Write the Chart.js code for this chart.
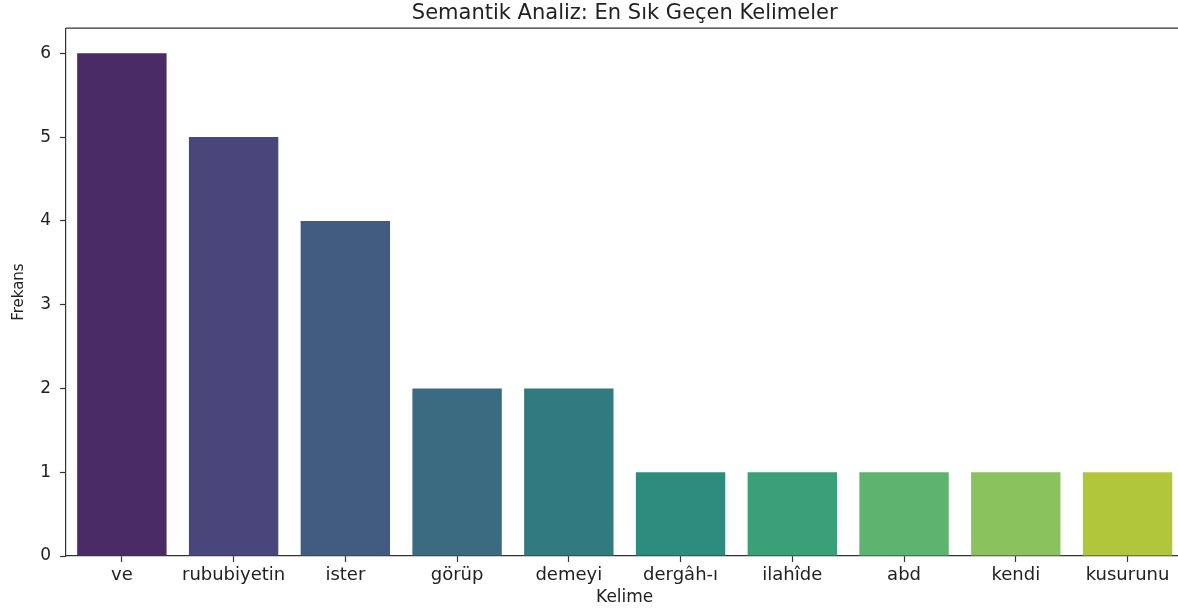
<!DOCTYPE html>
<html>
<head>
<meta charset="utf-8">
<script src="https://cdn.jsdelivr.net/npm/chart.js@4"></script>
<style>
  html, body { margin: 0; padding: 0; background: #fff; overflow: hidden; }
  #wrap { width: 1186px; height: 611px; position: relative; }
</style>
</head>
<body>
<div id="wrap"><canvas id="bar"></canvas></div>
<script>
// word frequencies
const words = ['ve', 'rububiyetin', 'ister', 'görüp', 'demeyi', 'dergâh-ı', 'ilahîde', 'abd', 'kendi', 'kusurunu'];
const counts = [6, 5, 4, 2, 2, 1, 1, 1, 1, 1];
const yTicks = [0, 1, 2, 3, 4, 5, 6];
// viridis, desaturated like seaborn
const barColors = ['#4a2b66', '#48467a', '#425b80', '#3b6b80', '#317a7f',
                   '#2e8c7e', '#3aa077', '#5cb46f', '#8ac35e', '#b2c63c'];

const font = 'DejaVu Sans';
const ink = '#222';

// top spine + centre the title over the plot area like matplotlib
const frame = {
  id: 'frame',
  afterLayout(chart) {
    const t = chart.titleBlock, a = chart.chartArea;
    if (t) { t.left = a.left; t.right = a.right; t.width = a.right - a.left; }
  },
  afterDraw(chart) {
    const a = chart.chartArea, c = chart.ctx;
    c.save();
    c.strokeStyle = '#333';
    c.lineWidth = 1.2;
    c.beginPath();
    c.moveTo(a.left, a.top);
    c.lineTo(a.right, a.top);
    c.stroke();
    c.restore();
  }
};

const ctx = document.getElementById('bar');
const chart = new Chart(ctx, {
  type: 'bar',
  data: {
    labels: words,
    datasets: [{
      label: 'Frekans',
      data: counts,
      backgroundColor: barColors,
      borderWidth: 0,
      categoryPercentage: 0.8,
      barPercentage: 1.0
    }]
  },
  options: {
    responsive: true,
    maintainAspectRatio: false,
    animation: false,
    layout: { padding: { left: 0, right: 2.6, top: 0, bottom: 0 } },
    plugins: {
      legend: { display: false },
      tooltip: { enabled: false },
      title: {
        display: true,
        text: 'Semantik Analiz: En Sık Geçen Kelimeler',
        color: ink,
        font: { family: font, size: 21, weight: 'normal' },
        padding: { top: 1, bottom: 2 }
      }
    },
    scales: {
      x: {
        offset: true,
        grid: { display: true, drawOnChartArea: false, offset: false, tickLength: 6, tickColor: '#333', tickWidth: 1.2 },
        border: { display: true, color: '#333', width: 1.2 },
        ticks: { color: ink, font: { family: font, size: 18 }, padding: 3, maxRotation: 0, autoSkip: false },
        title: { display: true, text: 'Kelime', color: ink, font: { family: font, size: 17 }, padding: { top: 0, bottom: 3 } },
        afterFit(s) { s.height = 55; }
      },
      y: {
        min: 0,
        max: 6.3,
        grid: { display: true, drawOnChartArea: false, tickLength: 6, tickColor: '#333', tickWidth: 1.2 },
        border: { display: true, color: '#333', width: 1.2 },
        afterBuildTicks(s) { s.ticks = yTicks.map(v => ({ value: v })); },
        ticks: { color: ink, font: { family: font, size: 17 }, padding: 9 },
        title: { display: true, text: 'Frekans', color: ink, font: { family: font, size: 15 }, padding: { top: 10, bottom: 4 } },
        afterFit(s) { s.width = 66; }
      }
    }
  },
  plugins: [frame]
});
</script>
</body>
</html>
